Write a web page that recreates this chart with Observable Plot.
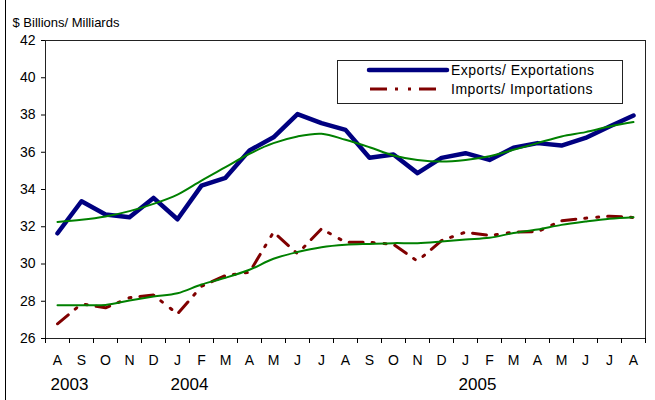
<!DOCTYPE html>
<html>
<head>
<meta charset="utf-8">
<script src="https://cdn.jsdelivr.net/npm/d3@7"></script>
<script src="https://cdn.jsdelivr.net/npm/@observablehq/plot@0.6"></script>
<style>
  body { margin: 0; background: #fff; }
  #wrap { position: relative; width: 655px; height: 400px; overflow: hidden; font-family: "Liberation Sans", Arial, sans-serif; }
  #leftBorder { position: absolute; left: 5px; top: 0; width: 1px; height: 400px; background: #000; }
  #legend { position: absolute; left: 337px; top: 60px; }
</style>
</head>
<body>
<div id="wrap"><div id="leftBorder"></div></div>
<script>
const months = ["A","S","O","N","D","J","F","M","A","M","J","J","A","S","O","N","D","J","F","M","A","M","J","J","A"];
const years = ["2003", "2004", "2005"];
const yearAt = [0.5, 5.5, 17.5];
const yTicks = [26, 28, 30, 32, 34, 36, 38, 40, 42];

const exportsV = [31.65, 33.37, 32.66, 32.51, 33.55, 32.4, 34.21, 34.63, 36.1, 36.8, 38.05, 37.56, 37.2, 35.7, 35.88, 34.88, 35.7, 35.95, 35.59, 36.24, 36.49, 36.36, 36.77, 37.38, 37.97];
const exportsTrend = [32.26, 32.37, 32.55, 32.84, 33.23, 33.73, 34.48, 35.2, 35.92, 36.49, 36.85, 36.99, 36.67, 36.27, 35.83, 35.59, 35.5, 35.59, 35.79, 36.13, 36.49, 36.85, 37.08, 37.38, 37.62];
const importsV = [26.79, 27.86, 27.65, 28.19, 28.33, 27.32, 28.8, 29.38, 29.56, 31.71, 30.55, 31.89, 31.17, 31.17, 31.05, 30.15, 31.26, 31.71, 31.53, 31.71, 31.74, 32.32, 32.46, 32.57, 32.5];
const importsTrend = [27.79, 27.79, 27.8, 28.04, 28.25, 28.43, 28.9, 29.26, 29.69, 30.28, 30.64, 30.9, 31.03, 31.08, 31.12, 31.12, 31.21, 31.32, 31.41, 31.66, 31.85, 32.1, 32.28, 32.43, 32.51];

const series = (arr) => arr.map((v, i) => ({i, v}));
const font = "'Liberation Sans', Arial, sans-serif";

const chart = Plot.plot({
  width: 655,
  height: 400,
  marginLeft: 45,
  marginRight: 10,
  marginTop: 40,
  marginBottom: 62,
  style: {fontFamily: font, fontSize: "14px", color: "#000", background: "transparent", overflow: "visible"},
  x: {domain: [-0.5, 24.5]},
  y: {domain: [26, 42]},
  marks: [
    Plot.frame({stroke: "#222"}),
    Plot.axisY({ticks: yTicks, tickSize: 4, tickPadding: 6, label: null, fontSize: 14, stroke: "#000"}),
    Plot.axisX({ticks: d3.range(-0.5, 25, 1), tickSize: 5, tickFormat: () => "", label: null, stroke: "#000"}),
    Plot.axisX({ticks: d3.range(0, 25), tickSize: 0, tickPadding: 17, tickFormat: i => months[i], label: null, fontSize: 14}),
    Plot.line(series(importsV), {x: "i", y: "v", stroke: "#800000", strokeWidth: 3, strokeDasharray: "14 9 2 10 2 9", strokeLinejoin: "round"}),
    Plot.line(series(exportsV), {x: "i", y: "v", stroke: "#000080", strokeWidth: 4.5, strokeLinejoin: "round"}),
    Plot.line(series(exportsTrend), {x: "i", y: "v", stroke: "#008000", strokeWidth: 2, curve: "catmull-rom"}),
    Plot.line(series(importsTrend), {x: "i", y: "v", stroke: "#008000", strokeWidth: 2, curve: "catmull-rom"}),
    Plot.text(years, {x: (d, k) => yearAt[k], text: d => d, frameAnchor: "bottom", dy: 51, fontSize: 17}),
    Plot.text(["$ Billions/ Milliards"], {frameAnchor: "top-left", dx: -33, dy: -23, textAnchor: "start", fontSize: 13, style: "letter-spacing:0.7px"})
  ]
});
document.getElementById("wrap").appendChild(chart);

// Legend
const legend = d3.select("#wrap").append("svg").attr("id", "legend")
  .attr("width", 287).attr("height", 45)
  .style("font-family", font);
legend.append("rect").attr("x", 0.5).attr("y", 0.5).attr("width", 285).attr("height", 43)
  .attr("fill", "#fff").attr("stroke", "#222");
legend.append("line").attr("x1", 32).attr("x2", 110).attr("y1", 10).attr("y2", 10)
  .attr("stroke", "#000080").attr("stroke-width", 4.5).attr("stroke-linecap", "round");
legend.append("line").attr("x1", 33).attr("x2", 105).attr("y1", 29).attr("y2", 29)
  .attr("stroke", "#800000").attr("stroke-width", 3).attr("stroke-dasharray", "17 8 3 10 3 8");
legend.append("text").attr("x", 114).attr("y", 15).attr("font-size", 14).style("letter-spacing", "0.5px").text("Exports/ Exportations");
legend.append("text").attr("x", 114).attr("y", 34).attr("font-size", 14).style("letter-spacing", "0.5px").text("Imports/ Importations");
</script>
</body>
</html>
